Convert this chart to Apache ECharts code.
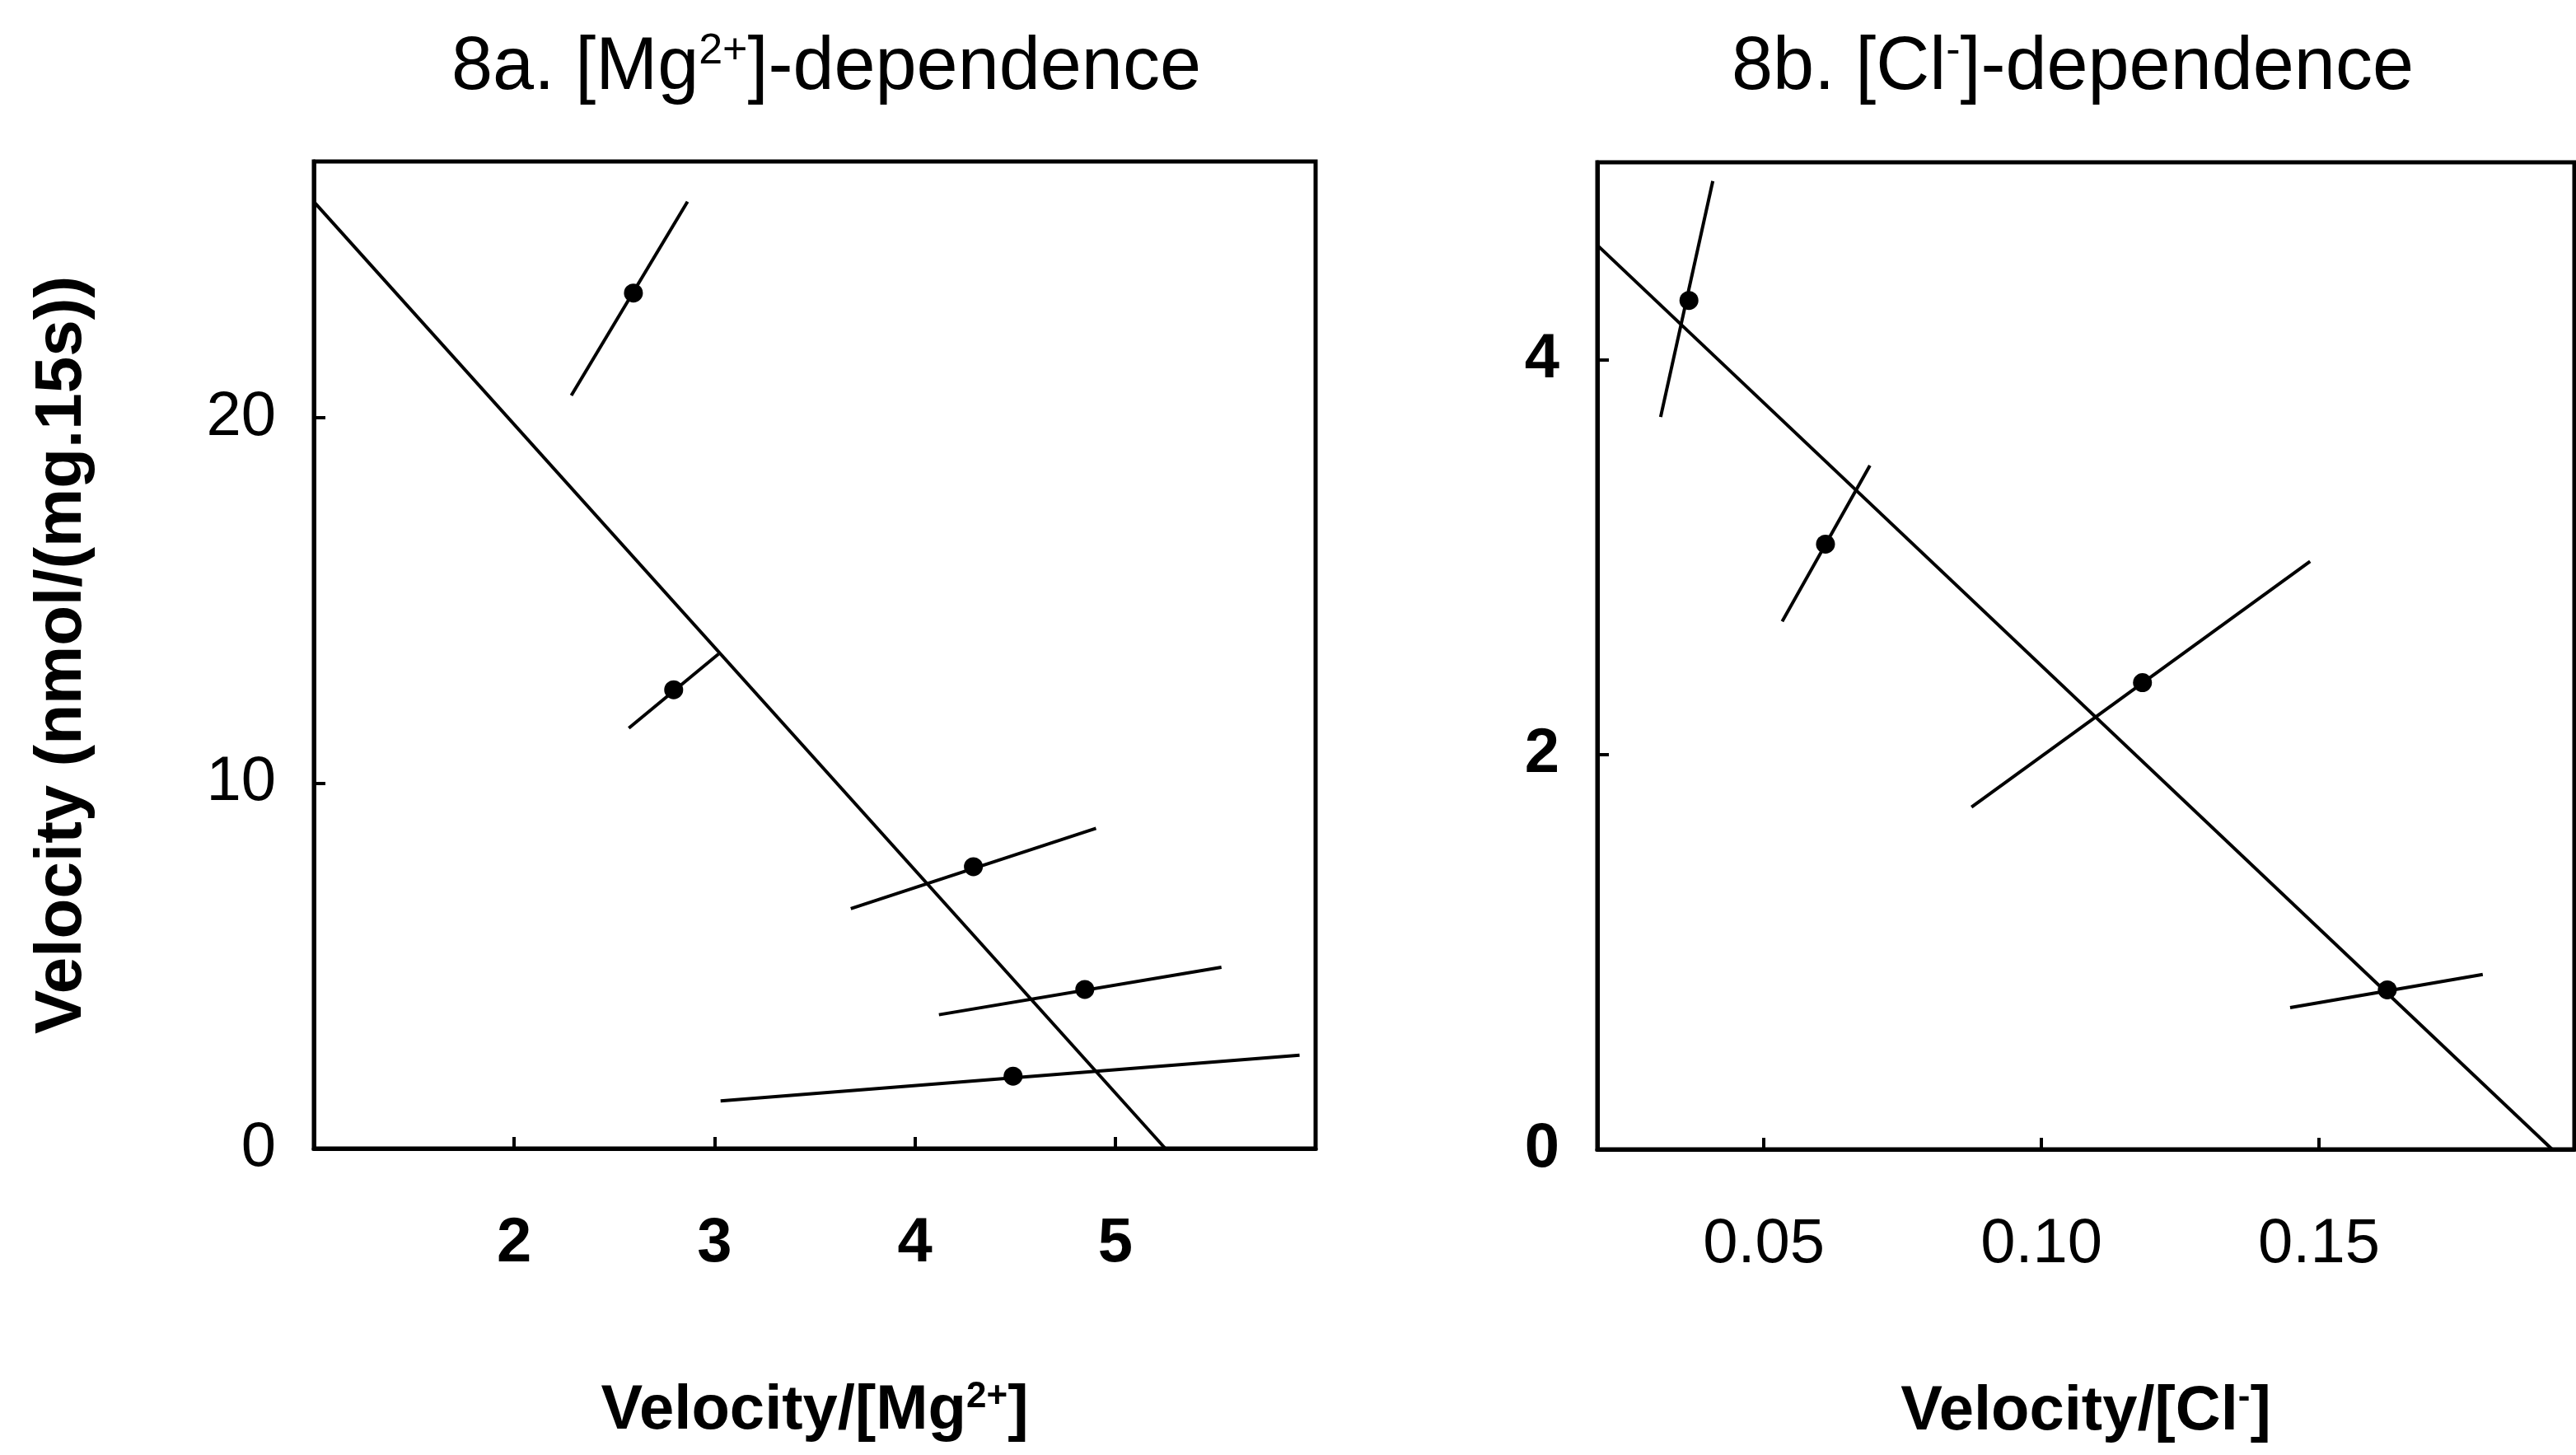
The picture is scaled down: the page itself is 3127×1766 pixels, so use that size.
<!DOCTYPE html>
<html lang="en">

<head>
    <meta charset="UTF-8">
    <meta name="viewport" content="width=device-width, initial-scale=1.0">
    <title>8a / 8b dependence</title>
    <script src="https://cdn.jsdelivr.net/npm/echarts@6.0.0/dist/echarts.min.js"></script>
    <style>
        html,
        body {
            margin: 0;
            padding: 0;
            background: #fff;
        }

        #chart {
            width: 3127px;
            height: 1766px;
        }
    </style>
</head>

<body>
    <div id="chart"></div>
    <script>
        // 8a. [Mg2+]-dependence : velocity/[Mg2+] (x) against velocity (y)
        var mgX = [2.595, 2.796, 4.292, 4.848, 4.49];
        var mgY = [23.4, 12.55, 7.71, 4.35, 1.98];
        // error segments, low end and high end of each point
        var mgErrLow = [[2.285, 20.6], [2.572, 11.5], [3.68, 6.56], [4.12, 3.66], [3.03, 1.30]];
        var mgErrHigh = [[2.865, 25.9], [3.02, 13.53], [4.904, 8.76], [5.53, 4.96], [5.92, 2.55]];
        var mgFit = [[1, 25.9], [5.25, 0]];
        var mgXTicks = [2, 3, 4, 5];
        var mgYTicks = [0, 10, 20];

        // 8b. [Cl-]-dependence
        var clX = [0.0365, 0.0611, 0.1182, 0.1623];
        var clY = [4.30, 3.066, 2.364, 0.808];
        var clErrLow = [[0.0314, 3.71], [0.0533, 2.674], [0.0874, 1.734], [0.1448, 0.718]];
        var clErrHigh = [[0.0408, 4.905], [0.0691, 3.464], [0.1484, 2.978], [0.1795, 0.886]];
        var clFit = [[0.02, 4.58], [0.192, 0]];
        var clXTicks = [0.05, 0.10, 0.15];
        var clYTicks = [0, 2, 4];

        var FONT = 'Liberation Sans, Arial, sans-serif';

        function pairs(xs, ys) {
            return xs.map(function (x, i) { return [x, ys[i]]; });
        }
        function segs(lo, hi) {
            return lo.map(function (p, i) { return { coords: [p, hi[i]] }; });
        }

        function xAxisOf(idx, min, max, ticks, name, rich, bold, fmt) {
            return {
                type: 'value', gridIndex: idx, min: min, max: max,
                name: name, nameLocation: 'middle', nameGap: 280,
                nameTextStyle: { fontFamily: FONT, fontSize: 76, fontWeight: 'bold', color: '#000', rich: rich },
                axisLine: { show: true, onZero: false, lineStyle: { color: '#000', width: 5 } },
                axisTick: { show: true, inside: true, length: 14, customValues: ticks, lineStyle: { color: '#000', width: 4 } },
                axisLabel: {
                    show: true, customValues: ticks, margin: 78, color: '#000',
                    fontFamily: FONT, fontSize: 76, fontWeight: bold ? 'bold' : 'normal',
                    formatter: fmt
                },
                splitLine: { show: false }
            };
        }

        function yAxisOf(idx, min, max, ticks, name, bold) {
            return {
                type: 'value', gridIndex: idx, min: min, max: max,
                name: name, nameLocation: 'middle', nameGap: 265, nameRotate: 90,
                nameTextStyle: { fontFamily: FONT, fontSize: 80, fontWeight: 'bold', color: '#000' },
                axisLine: { show: true, onZero: false, lineStyle: { color: '#000', width: 5 } },
                axisTick: { show: true, inside: true, length: 14, customValues: ticks, lineStyle: { color: '#000', width: 4 } },
                axisLabel: {
                    show: true, customValues: ticks, margin: 46, color: '#000',
                    fontFamily: FONT, fontSize: 76, fontWeight: bold ? 'bold' : 'normal'
                },
                splitLine: { show: false }
            };
        }

        var sup = { fontFamily: FONT, fontSize: 44, fontWeight: 'bold', color: '#000', verticalAlign: 'top', padding: [0, 0, 34, 0] };
        var supTitle = { fontFamily: FONT, fontSize: 52, color: '#000', padding: [0, 0, 40, 0] };

        var chart = echarts.init(document.getElementById('chart'));
        var option = {
            backgroundColor: '#fff',
            animation: false,
            title: [{
                text: '8a. [Mg{s|2+}]-dependence',
                left: 998, top: 32, textAlign: 'center',
                textStyle: { fontFamily: FONT, fontSize: 90, fontWeight: 'normal', color: '#000', rich: { s: supTitle } }
            }, {
                text: '8b. [Cl{s|-}]-dependence',
                left: 2511, top: 32, textAlign: 'center',
                textStyle: { fontFamily: FONT, fontSize: 90, fontWeight: 'normal', color: '#000', rich: { s: supTitle } }
            }],
            grid: [
                { left: 381, top: 196, width: 1216, height: 1198, show: true, borderColor: '#000', borderWidth: 5, backgroundColor: 'transparent' },
                { left: 1939, top: 197, width: 1186, height: 1198, show: true, borderColor: '#000', borderWidth: 5, backgroundColor: 'transparent' }
            ],
            xAxis: [
                xAxisOf(0, 1, 6, mgXTicks, 'Velocity/[Mg{s|2+}]', { s: sup }, true),
                xAxisOf(1, 0.02, 0.196, clXTicks, 'Velocity/[Cl{s|-}]', { s: sup }, false, function (v) { return v.toFixed(2); })
            ],
            yAxis: [
                yAxisOf(0, 0, 27, mgYTicks, 'Velocity (nmol/(mg.15s))', false),
                yAxisOf(1, 0, 5, clYTicks, '', true)
            ],
            series: [
                {
                    type: 'line', xAxisIndex: 0, yAxisIndex: 0, data: mgFit, showSymbol: false,
                    lineStyle: { color: '#000', width: 4 }, silent: true
                },
                {
                    type: 'lines', coordinateSystem: 'cartesian2d', xAxisIndex: 0, yAxisIndex: 0,
                    data: segs(mgErrLow, mgErrHigh), lineStyle: { color: '#000', width: 4, opacity: 1 }, silent: true
                },
                {
                    type: 'scatter', xAxisIndex: 0, yAxisIndex: 0, data: pairs(mgX, mgY), symbolSize: 23,
                    itemStyle: { color: '#000', opacity: 1 }, z: 5
                },
                {
                    type: 'line', xAxisIndex: 1, yAxisIndex: 1, data: clFit, showSymbol: false,
                    lineStyle: { color: '#000', width: 4 }, silent: true
                },
                {
                    type: 'lines', coordinateSystem: 'cartesian2d', xAxisIndex: 1, yAxisIndex: 1,
                    data: segs(clErrLow, clErrHigh), lineStyle: { color: '#000', width: 4, opacity: 1 }, silent: true
                },
                {
                    type: 'scatter', xAxisIndex: 1, yAxisIndex: 1, data: pairs(clX, clY), symbolSize: 23,
                    itemStyle: { color: '#000', opacity: 1 }, z: 5
                }
            ]
        };
        chart.setOption(option);
    </script>
</body>

</html>
